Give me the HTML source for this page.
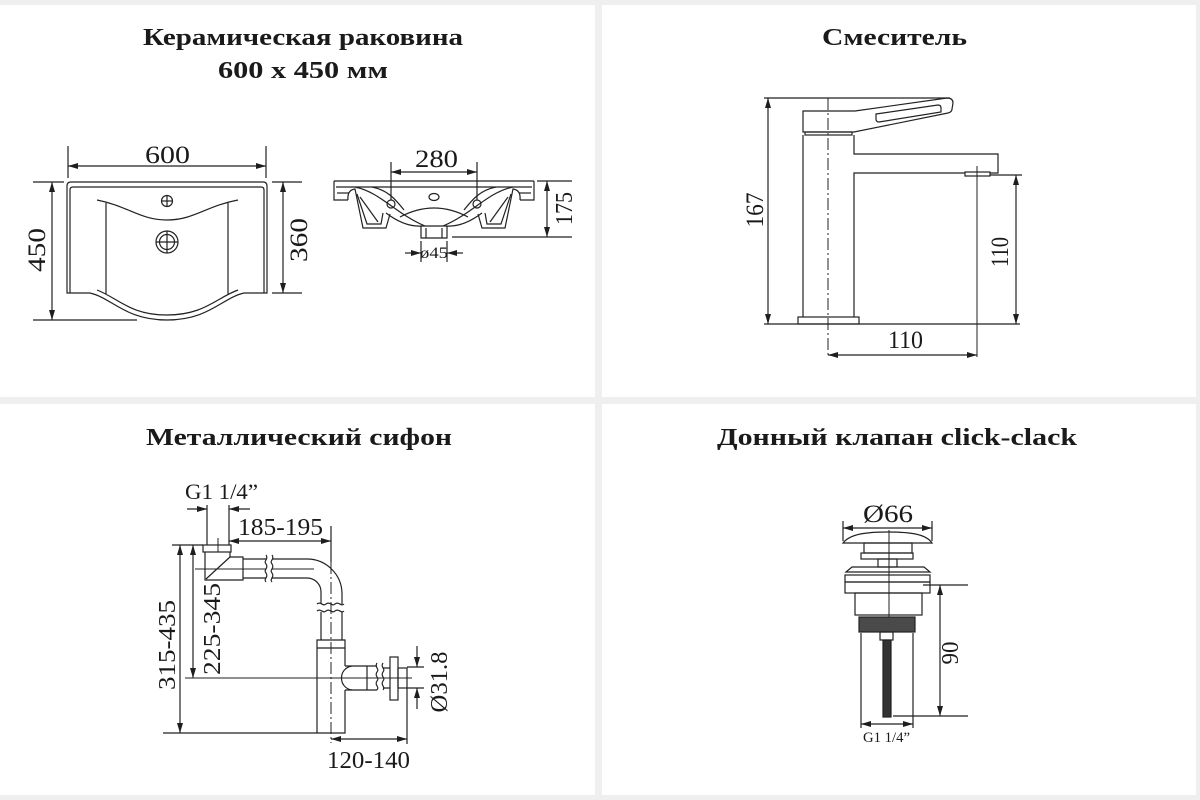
<!DOCTYPE html>
<html><head><meta charset="utf-8"><style>
html,body{margin:0;padding:0;background:#efefef;}
svg{display:block;}
text{font-family:"Liberation Serif","Noto Serif CJK SC",serif;fill:#1a1a1a;}
.t{font-weight:bold;font-size:24px;}
.d{font-size:25px;}
</style></head><body>
<svg width="1200" height="800" viewBox="0 0 1200 800" xmlns="http://www.w3.org/2000/svg">
<defs>
<marker id="a" viewBox="0 0 10 6" refX="10" refY="3" markerWidth="11" markerHeight="6" markerUnits="userSpaceOnUse" orient="auto-start-reverse"><path d="M0,0 L10,3 L0,6 z" fill="#1e1e1e"/></marker>
</defs>
<rect x="0" y="0" width="1200" height="800" fill="#efefef"/>
<rect x="0" y="5" width="595" height="392" fill="#fff"/>
<rect x="602" y="5" width="594" height="392" fill="#fff"/>
<rect x="0" y="404" width="595" height="391" fill="#fff"/>
<rect x="602" y="404" width="594" height="391" fill="#fff"/>

<!-- Titles -->
<text class="t" x="143" y="45" textLength="320" lengthAdjust="spacingAndGlyphs">Керамическая раковина</text>
<text class="t" x="218" y="78" textLength="170" lengthAdjust="spacingAndGlyphs">600 x 450 мм</text>
<text class="t" x="822" y="45" textLength="145" lengthAdjust="spacingAndGlyphs">Смеситель</text>
<text class="t" x="146" y="445" textLength="306" lengthAdjust="spacingAndGlyphs">Металлический сифон</text>
<text class="t" x="717" y="445" textLength="360" lengthAdjust="spacingAndGlyphs">Донный клапан click-clack</text>

<g fill="none" stroke="#222" stroke-width="1.2">
<!-- ===== Sink top view ===== -->
<line x1="68" y1="146" x2="68" y2="178"/>
<line x1="266" y1="146" x2="266" y2="178"/>
<line x1="68" y1="166" x2="266" y2="166" marker-start="url(#a)" marker-end="url(#a)"/>
<path d="M90,293 L67,293 L67,186 Q67,182 71,182 L263,182 Q267,182 267,186 L267,293 L244,293"/>
<path d="M90,293 C112,298 125,320 167,320 C209,320 222,298 244,293"/>
<path d="M70,293 L70,190 Q70,187 73,187 L261,187 Q264,187 264,190 L264,293"/>
<path d="M97,200 C128,206 140,220 167,220 C194,220 206,206 238,200"/>
<line x1="106" y1="203" x2="106" y2="294"/>
<line x1="228" y1="203" x2="228" y2="294"/>
<path d="M97,290 C118,298 130,315 167,315 C204,315 216,298 238,290"/>
<circle cx="167" cy="201" r="5.5"/>
<line x1="161.5" y1="201" x2="172.5" y2="201"/>
<line x1="167" y1="195.5" x2="167" y2="206.5"/>
<circle cx="167" cy="242" r="11"/>
<circle cx="167" cy="242" r="7.5"/>
<line x1="156" y1="242" x2="178" y2="242"/>
<line x1="167" y1="231" x2="167" y2="253"/>
<!-- 450 -->
<line x1="33" y1="182" x2="64" y2="182"/>
<line x1="33" y1="320" x2="137" y2="320"/>
<line x1="52" y1="182" x2="52" y2="320" marker-start="url(#a)" marker-end="url(#a)"/>
<!-- 360 -->
<line x1="272" y1="182" x2="302" y2="182"/>
<line x1="272" y1="293" x2="302" y2="293"/>
<line x1="283" y1="182" x2="283" y2="293" marker-start="url(#a)" marker-end="url(#a)"/>

<!-- ===== Sink side view ===== -->
<line x1="391" y1="162" x2="391" y2="200"/>
<line x1="477" y1="162" x2="477" y2="200"/>
<line x1="391" y1="172" x2="477" y2="172" marker-start="url(#a)" marker-end="url(#a)"/>
<line x1="334" y1="181" x2="534" y2="181"/>
<line x1="336" y1="187" x2="532" y2="187"/>
<g id="half">
<path d="M334,181 L334,200 L348,200"/>
<path d="M337,193 L349,193"/>
<path d="M348,200 Q347,190 355,189 L363,228 L386,228 L390,214"/>
<path d="M357,194 L367,224 L381,224 L383,213"/>
<path d="M360,197 L378,222"/>
<path d="M355,187 C380,192 396,214 425,226"/>
<path d="M372,187 C388,190 396,200 404,210"/>
<path d="M386,213 C398,222 410,227 422,226"/>
<circle cx="391" cy="204" r="4"/>
</g>
<use href="#half" transform="translate(868,0) scale(-1,1)"/>
<path d="M400,217 Q434,199 468,217"/>
<path d="M421,226 L447,226"/>
<path d="M421,226 L421,238 L447,238 L447,226"/>
<line x1="426" y1="228" x2="426" y2="238"/>
<line x1="442" y1="228" x2="442" y2="238"/>
<ellipse cx="434" cy="197" rx="5" ry="3.5"/>
<!-- 175 -->
<line x1="537" y1="181" x2="572" y2="181"/>
<line x1="452" y1="237" x2="572" y2="237"/>
<line x1="547" y1="181" x2="547" y2="237" marker-start="url(#a)" marker-end="url(#a)"/>
<!-- ø45 -->
<line x1="421" y1="241" x2="421" y2="262"/>
<line x1="447" y1="241" x2="447" y2="262"/>
<line x1="405" y1="253" x2="421" y2="253" marker-end="url(#a)"/>
<line x1="463" y1="253" x2="447" y2="253" marker-end="url(#a)"/>

<!-- ===== Faucet ===== -->
<path d="M803,132 L803,111 L855,111 L947,98 Q953,98 953,103 L952,109 Q952,112 948,113 L854,132 Z"/>
<path d="M876,114 L938,105 Q941,105 941,108 L941,112 L879,122 Q876,122 876,119 Z"/>
<rect x="805" y="132" width="47" height="3"/>
<line x1="803" y1="135" x2="803" y2="317"/>
<path d="M854,135 L854,154 L998,154 L998,173 L990,173"/>
<path d="M965,173 L854,173 L854,317"/>
<rect x="965" y="172" width="25" height="4"/>
<rect x="798" y="317" width="61" height="7"/>
<line x1="828" y1="98" x2="828" y2="357" stroke-width="1" stroke-dasharray="12,3,2,3"/>
<line x1="977" y1="166" x2="977" y2="357" stroke-width="1"/>
<line x1="764" y1="98" x2="950" y2="98"/>
<line x1="764" y1="324" x2="1020" y2="324"/>
<line x1="768" y1="98" x2="768" y2="324" marker-start="url(#a)" marker-end="url(#a)"/>
<line x1="990" y1="175" x2="1022" y2="175"/>
<line x1="1016" y1="175" x2="1016" y2="324" marker-start="url(#a)" marker-end="url(#a)"/>
<line x1="828" y1="355" x2="977" y2="355" marker-start="url(#a)" marker-end="url(#a)"/>

<!-- ===== Siphon ===== -->
<line x1="187" y1="509" x2="207" y2="509" marker-end="url(#a)"/>
<line x1="250" y1="509" x2="229" y2="509" marker-end="url(#a)"/>
<line x1="207" y1="505" x2="207" y2="545"/>
<line x1="229" y1="505" x2="229" y2="545"/>
<line x1="229" y1="541" x2="331" y2="541" marker-start="url(#a)" marker-end="url(#a)"/>
<line x1="331" y1="526" x2="331" y2="562"/>
<line x1="331" y1="562" x2="331" y2="743" stroke-width="1" stroke-dasharray="12,3,2,3"/>
<rect x="203" y="545" width="28" height="7"/>
<path d="M205,552 L205,580 L243,580 L243,557 L230,557 L230,552"/>
<line x1="206" y1="579" x2="230" y2="557"/>
<line x1="218" y1="538" x2="218" y2="552" stroke-width="1"/>
<line x1="195" y1="569" x2="266" y2="569" stroke-width="1"/>
<line x1="272" y1="569" x2="314" y2="569" stroke-width="1"/>
<path d="M243,559 L266,559 M272,559 L307,559 M243,578 L266,578 M272,578 L307,578"/>
<path d="M266,555 c3,4 -3,6 0,9 c3,4 -3,6 0,9 c3,4 -3,6 0,9"/>
<path d="M272,555 c3,4 -3,6 0,9 c3,4 -3,6 0,9 c3,4 -3,6 0,9"/>
<path d="M307,559 A35,35 0 0 1 342,594"/>
<path d="M307,578 A14,14 0 0 1 321,592"/>
<path d="M321,592 L321,604 M321,612 L321,640 M342,594 L342,604 M342,612 L342,640"/>
<path d="M317,604 c4,-3 6,3 9,0 c4,-3 6,3 9,0 c4,-3 6,3 9,0"/>
<path d="M317,611 c4,-3 6,3 9,0 c4,-3 6,3 9,0 c4,-3 6,3 9,0"/>
<path d="M345,666 L345,640 L317,640 L317,733 L345,733 L345,690"/>
<line x1="317" y1="648" x2="345" y2="648"/>
<path d="M352,666 C338,668 338,688 352,690"/>
<path d="M345,666 L377,666 M345,690 L377,690 M367,666 L367,690"/>
<path d="M377,663 c-3,4 3,6 0,9 c-3,4 3,6 0,9 c-3,4 3,6 0,9"/>
<path d="M383,663 c-3,4 3,6 0,9 c-3,4 3,6 0,9 c-3,4 3,6 0,9"/>
<path d="M383,668 L390,668 M383,688 L390,688"/>
<rect x="390" y="657" width="8" height="43"/>
<rect x="398" y="668" width="9" height="20"/>
<line x1="185" y1="678" x2="412" y2="678" stroke-width="1"/>
<line x1="172" y1="545" x2="203" y2="545"/>
<line x1="163" y1="733" x2="317" y2="733"/>
<line x1="180" y1="545" x2="180" y2="733" marker-start="url(#a)" marker-end="url(#a)"/>
<line x1="193" y1="545" x2="193" y2="678" marker-start="url(#a)" marker-end="url(#a)"/>
<line x1="407" y1="667" x2="424" y2="667"/>
<line x1="407" y1="688" x2="424" y2="688"/>
<line x1="417" y1="646" x2="417" y2="667" marker-end="url(#a)"/>
<line x1="417" y1="709" x2="417" y2="688" marker-end="url(#a)"/>
<line x1="407" y1="688" x2="407" y2="744"/>
<line x1="331" y1="739" x2="407" y2="739" marker-start="url(#a)" marker-end="url(#a)"/>

<!-- ===== Click-clack ===== -->
<line x1="843" y1="521" x2="843" y2="541"/>
<line x1="932" y1="521" x2="932" y2="541"/>
<line x1="843" y1="528" x2="932" y2="528" marker-start="url(#a)" marker-end="url(#a)"/>
<path d="M843,543 C850,534 866,532 888,532 C910,532 926,534 932,543 Z"/>
<rect x="864" y="543" width="48" height="10"/>
<rect x="861" y="553" width="52" height="6"/>
<rect x="878" y="559" width="19" height="8"/>
<path d="M846,572 L852,567 L924,567 L930,572 Z"/>
<rect x="845" y="575" width="85" height="7"/>
<rect x="845" y="582" width="85" height="11"/>
<rect x="855" y="593" width="67" height="22"/>
<rect x="859" y="617" width="56" height="15" fill="#4a4a4a"/>
<rect x="880" y="632" width="13" height="8"/>
<rect x="883" y="640" width="8" height="77" fill="#333"/>
<line x1="889" y1="530" x2="889" y2="617" stroke-width="1"/>
<line x1="861" y1="633" x2="861" y2="728"/>
<line x1="913" y1="633" x2="913" y2="728"/>
<line x1="861" y1="724" x2="913" y2="724" marker-start="url(#a)" marker-end="url(#a)"/>
<line x1="923" y1="585" x2="968" y2="585"/>
<line x1="893" y1="716" x2="968" y2="716"/>
<line x1="940" y1="585" x2="940" y2="716" marker-start="url(#a)" marker-end="url(#a)"/>
</g>

<!-- Dimension labels -->
<text class="d" x="145" y="163" textLength="45" lengthAdjust="spacingAndGlyphs">600</text>
<text class="d" x="415" y="167" textLength="43" lengthAdjust="spacingAndGlyphs">280</text>
<text class="d" transform="translate(45,250) rotate(-90)" x="-22" y="0" textLength="44" lengthAdjust="spacingAndGlyphs">450</text>
<text class="d" transform="translate(307,240) rotate(-90)" x="-22" y="0" textLength="44" lengthAdjust="spacingAndGlyphs">360</text>
<text class="d" style="font-size:24px" transform="translate(572,208.5) rotate(-90)" x="-16.5" y="0" textLength="33" lengthAdjust="spacingAndGlyphs">175</text>
<text style="font-size:16px" x="420" y="258" textLength="28" lengthAdjust="spacingAndGlyphs">ø45</text>
<text class="d" transform="translate(763,210) rotate(-90)" x="-17.5" y="0" textLength="35" lengthAdjust="spacingAndGlyphs">167</text>
<text class="d" transform="translate(1008,252) rotate(-90)" x="-15" y="0" textLength="30" lengthAdjust="spacingAndGlyphs">110</text>
<text class="d" x="888" y="348" textLength="35" lengthAdjust="spacingAndGlyphs">110</text>
<text style="font-size:22px" x="185" y="499" textLength="73" lengthAdjust="spacingAndGlyphs">G1 1/4”</text>
<text style="font-size:24px" x="238" y="535" textLength="85" lengthAdjust="spacingAndGlyphs">185-195</text>
<text style="font-size:24px" transform="translate(175,645) rotate(-90)" x="-45" y="0" textLength="90" lengthAdjust="spacingAndGlyphs">315-435</text>
<text style="font-size:24px" transform="translate(220,629) rotate(-90)" x="-46" y="0" textLength="92" lengthAdjust="spacingAndGlyphs">225-345</text>
<text style="font-size:24px" transform="translate(447,682) rotate(-90)" x="-30.5" y="0" textLength="61" lengthAdjust="spacingAndGlyphs">Ø31.8</text>
<text style="font-size:24px" x="327" y="768" textLength="83" lengthAdjust="spacingAndGlyphs">120-140</text>
<text class="d" x="863" y="522" textLength="50" lengthAdjust="spacingAndGlyphs">Ø66</text>
<text style="font-size:24px" transform="translate(958,653) rotate(-90)" x="-11.5" y="0" textLength="23" lengthAdjust="spacingAndGlyphs">90</text>
<text style="font-size:15px" x="863" y="742" textLength="47" lengthAdjust="spacingAndGlyphs">G1 1/4”</text>
</svg>
</body></html>
